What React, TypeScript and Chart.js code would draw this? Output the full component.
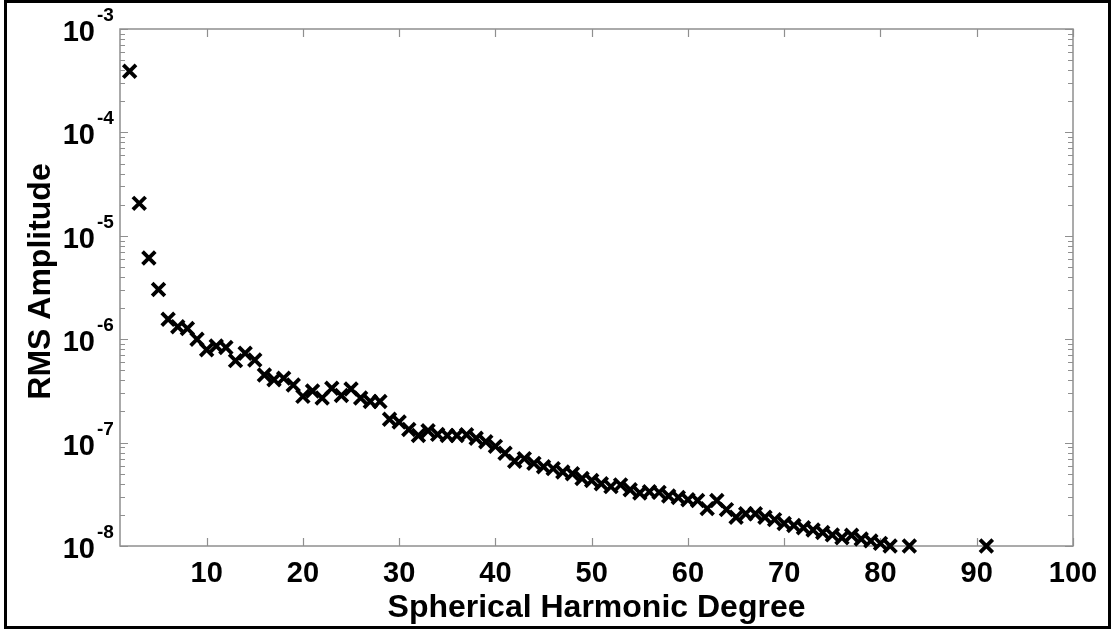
import React, { useEffect, useRef } from "react";
import { Chart, registerables } from "chart.js";

Chart.register(...registerables);

// Spherical harmonic degree of each estimate
const degrees: number[] = [
  2, 3, 4, 5, 6, 7, 8, 9, 10, 11, 12, 13, 14, 15, 16, 17, 18, 19, 20, 21,
  22, 23, 24, 25, 26, 27, 28, 29, 30, 31, 32, 33, 34, 35, 36, 37, 38, 39, 40,
  41, 42, 43, 44, 45, 46, 47, 48, 49, 50, 51, 52, 53, 54, 55, 56, 57, 58, 59,
  60, 61, 62, 63, 64, 65, 66, 67, 68, 69, 70, 71, 72, 73, 74, 75, 76, 77, 78,
  79, 80, 81, 83, 91,
];

// RMS amplitude per degree
const rmsAmplitude: number[] = [
  3.9e-4, 2.06e-5, 6.1e-6, 3.03e-6, 1.56e-6, 1.32e-6, 1.27e-6, 1.0e-6, 7.9e-7,
  8.6e-7, 8.3e-7, 6.2e-7, 7.3e-7, 6.3e-7, 4.5e-7, 4.05e-7, 4.2e-7, 3.6e-7,
  2.8e-7, 3.15e-7, 2.7e-7, 3.35e-7, 2.85e-7, 3.3e-7, 2.7e-7, 2.5e-7, 2.5e-7,
  1.68e-7, 1.58e-7, 1.34e-7, 1.17e-7, 1.3e-7, 1.2e-7, 1.17e-7, 1.17e-7,
  1.19e-7, 1.1e-7, 1.02e-7, 9.2e-8, 7.9e-8, 6.6e-8, 7.0e-8, 6.3e-8, 5.85e-8,
  5.6e-8, 5.2e-8, 5.0e-8, 4.5e-8, 4.3e-8, 4.0e-8, 3.75e-8, 3.9e-8, 3.5e-8,
  3.25e-8, 3.35e-8, 3.3e-8, 3.05e-8, 2.95e-8, 2.8e-8, 2.75e-8, 2.3e-8,
  2.75e-8, 2.25e-8, 1.9e-8, 2.05e-8, 2.05e-8, 1.9e-8, 1.8e-8, 1.65e-8,
  1.58e-8, 1.5e-8, 1.43e-8, 1.35e-8, 1.28e-8, 1.2e-8, 1.27e-8, 1.17e-8,
  1.12e-8, 1.06e-8, 1.0e-8, 1.0e-8, 1.0e-8,
];

const xTickValues: number[] = [10, 20, 30, 40, 50, 60, 70, 80, 90, 100];
const yDecadeExponents: number[] = [-3, -4, -5, -6, -7, -8];

const xTitle = "Spherical Harmonic Degree";
const yTitle = "RMS Amplitude";

const FONT = '"Liberation Sans", Arial, sans-serif';
const AXIS_GRAY = "#8f8f8f";

// Draws the boxed frame, inward tick marks on all four sides, the
// power-of-ten tick labels and both axis titles.
const frameAndLabels = {
  id: "frameAndLabels",
  beforeDatasetsDraw(chart: Chart) {
    const { ctx, chartArea } = chart;
    const xs = chart.scales.x;
    const ys = chart.scales.y;
    const { left, right, top, bottom } = chartArea;

    ctx.save();
    ctx.strokeStyle = AXIS_GRAY;
    ctx.lineWidth = 1.5;
    ctx.strokeRect(left, top, right - left, bottom - top);

    ctx.lineWidth = 1.2;
    ctx.beginPath();
    for (const v of xTickValues) {
      const px = Math.round(xs.getPixelForValue(v)) + 0.5;
      ctx.moveTo(px, bottom);
      ctx.lineTo(px, bottom - 8);
      ctx.moveTo(px, top);
      ctx.lineTo(px, top + 8);
    }
    for (const e of yDecadeExponents) {
      const base = Math.pow(10, e);
      const py = Math.round(ys.getPixelForValue(base)) + 0.5;
      ctx.moveTo(left, py);
      ctx.lineTo(left + 8, py);
      ctx.moveTo(right, py);
      ctx.lineTo(right - 8, py);
      if (e > -3) continue;
      for (let m = 2; m <= 9; m++) {
        const v = m * base;
        if (v > 1e-3) break;
        const pm = Math.round(ys.getPixelForValue(v)) + 0.5;
        ctx.moveTo(left, pm);
        ctx.lineTo(left + 5, pm);
        ctx.moveTo(right, pm);
        ctx.lineTo(right - 5, pm);
      }
    }
    ctx.stroke();

    ctx.fillStyle = "#000";

    // x tick labels
    ctx.font = `bold 29px ${FONT}`;
    ctx.textAlign = "center";
    ctx.textBaseline = "alphabetic";
    for (const v of xTickValues) {
      ctx.fillText(String(v), xs.getPixelForValue(v), bottom + 36);
    }

    // y tick labels as 10 with a raised exponent
    for (const e of yDecadeExponents) {
      const py = ys.getPixelForValue(Math.pow(10, e));
      ctx.font = `bold 29px ${FONT}`;
      ctx.textAlign = "right";
      ctx.textBaseline = "alphabetic";
      ctx.fillText("10", left - 25, py + 12);
      ctx.font = `bold 19px ${FONT}`;
      ctx.textAlign = "left";
      ctx.fillText(String(e), left - 23, py - 8);
    }

    // axis titles
    ctx.font = `bold 32px ${FONT}`;
    ctx.textAlign = "center";
    ctx.textBaseline = "alphabetic";
    ctx.fillText(xTitle, (left + right) / 2, bottom + 71);

    ctx.translate(50, (top + bottom) / 2 - 6);
    ctx.rotate(-Math.PI / 2);
    ctx.fillText(yTitle, 0, 0);
    ctx.restore();
  },
};

export default function App() {
  const canvasRef = useRef<HTMLCanvasElement | null>(null);

  useEffect(() => {
    const canvas = canvasRef.current;
    if (!canvas) return;
    const chart = new Chart(canvas, {
      type: "scatter",
      data: {
        datasets: [
          {
            data: degrees.map((d, i) => ({ x: d, y: rmsAmplitude[i] })),
            pointStyle: "crossRot",
            pointRadius: 9,
            pointBorderWidth: 3.8,
            borderColor: "#000",
            backgroundColor: "#000",
            clip: false,
          },
        ],
      },
      options: {
        animation: false,
        responsive: false,
        maintainAspectRatio: false,
        layout: { padding: { left: 120, top: 29, right: 38, bottom: 84 } },
        plugins: {
          legend: { display: false },
          tooltip: { enabled: false },
        },
        scales: {
          x: {
            type: "linear",
            min: 1,
            max: 100,
            grid: { display: false, drawTicks: false },
            border: { display: false },
            ticks: { display: false },
          },
          y: {
            type: "logarithmic",
            min: 1e-8,
            max: 1e-3,
            grid: { display: false, drawTicks: false },
            border: { display: false },
            ticks: { display: false },
          },
        },
      },
      plugins: [frameAndLabels],
    });
    return () => chart.destroy();
  }, []);

  return (
    <div
      style={{
        position: "fixed",
        left: 0,
        top: 0,
        width: 1111,
        height: 630,
        background: "#fff",
      }}
    >
      <canvas
        ref={canvasRef}
        width={1111}
        height={630}
        style={{ position: "absolute", left: 0, top: 0, width: 1111, height: 630 }}
      />
      <div
        style={{
          position: "absolute",
          left: 4,
          top: 0,
          width: 1101,
          height: 623,
          border: "3px solid #000",
        }}
      />
    </div>
  );
}
